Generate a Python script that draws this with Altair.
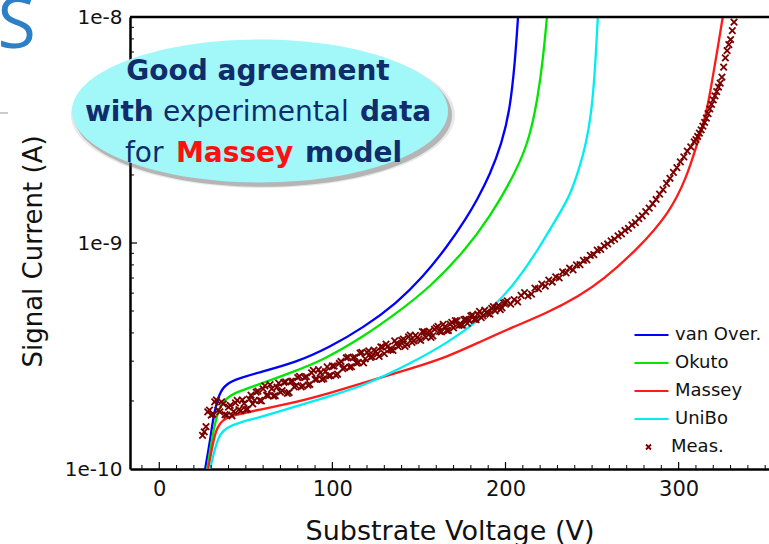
import altair as alt
import pandas as pd

# ---------------- data ----------------
models = ["van Over.", "Okuto", "Massey", "UniBo"]
model_colors = ["#0000ff", "#00e600", "#ff1a1a", "#00eeee"]

van_v = [26.5, 29.4, 31.2, 34.0, 36.9, 42.7, 56.5, 79.6, 98.7, 117.7, 137.3, 152.3,
         166.2, 177.7, 183.5, 191.0, 197.9, 202.5, 205.4, 207.2]
van_i = [1.0e-10, 1.34e-10, 1.70e-10, 2.08e-10, 2.31e-10, 2.48e-10, 2.66e-10, 2.97e-10,
         3.47e-10, 4.21e-10, 5.43e-10, 7.08e-10, 9.6e-10, 1.30e-9, 1.55e-9, 2.0e-9,
         2.77e-9, 3.87e-9, 6.2e-9, 9.9e-9]

oku_v = [27.7, 30.6, 33.5, 36.4, 42.7, 56.5, 75.6, 94.6, 117.7, 137.3, 156.4, 175.4,
         191.0, 206.6, 214.1, 218.7, 221.6, 223.9]
oku_i = [1.0e-10, 1.39e-10, 1.77e-10, 1.98e-10, 2.17e-10, 2.35e-10, 2.66e-10, 3.03e-10,
         3.84e-10, 4.90e-10, 6.38e-10, 9.03e-10, 1.30e-9, 2.10e-9, 2.94e-9, 4.43e-9,
         6.46e-9, 9.9e-9]

mas_v = [28.3, 31.2, 33.5, 36.4, 42.7, 56.5, 79.6, 98.7, 117.7, 146.6, 166.2, 185.2,
         204.3, 223.9, 242.9, 256.2, 275.8, 294.9, 304.7, 310.4, 316.2, 319.7, 322.6, 325.4]
mas_i = [1.0e-10, 1.34e-10, 1.53e-10, 1.65e-10, 1.73e-10, 1.82e-10, 1.98e-10, 2.17e-10,
         2.40e-10, 2.80e-10, 3.13e-10, 3.65e-10, 4.25e-10, 4.90e-10, 5.85e-10, 6.86e-10,
         9.31e-10, 1.36e-9, 1.96e-9, 2.7e-9, 3.75e-9, 5.43e-9, 7.3e-9, 9.9e-9]

uni_v = [29.4, 32.3, 35.2, 39.2, 46.7, 56.5, 75.6, 94.6, 117.7, 146.6, 166.2, 185.2,
         204.3, 219.8, 231.4, 237.2, 242.9, 246.5, 249.5, 251.6, 253.3]
uni_i = [1.0e-10, 1.25e-10, 1.44e-10, 1.53e-10, 1.61e-10, 1.68e-10, 1.86e-10, 2.06e-10,
         2.32e-10, 2.97e-10, 3.61e-10, 4.56e-10, 6.38e-10, 9.6e-10, 1.36e-9, 1.62e-9,
         2.17e-9, 2.75e-9, 3.7e-9, 5.6e-9, 9.9e-9]

# measured points: substrate voltage (V) and signal current (pA)
meas_v = [25, 27, 29, 31, 33, 35, 37, 39, 41, 43, 45, 47, 49, 51, 53, 55, 57, 59, 61, 63,
          65, 67, 69, 71, 73, 75, 77, 79, 81, 83, 85, 87, 89, 91, 93, 95, 97, 99, 101, 103,
          105, 107, 109, 111, 113, 115, 117, 119,
          121, 123, 125, 127, 129, 131, 133, 135, 137, 139, 141, 143, 145, 147, 149, 151,
          153, 155, 157, 159, 161, 163, 165, 167, 169, 171, 173, 175, 177, 179, 181, 183,
          185, 187, 189, 191, 193, 195, 197, 199, 201, 203, 205, 207, 209, 211, 213, 215,
          217, 219, 221, 223, 225, 227, 229, 231, 233, 235, 237, 239, 241, 243, 245, 247,
          249, 251, 253, 255, 257, 259, 261, 263, 265, 267, 269, 271, 273, 275, 277, 279,
          281, 283, 285, 287, 289, 291, 293, 295, 297, 299, 301, 303, 305, 307, 309,
          310, 311, 312, 313, 314, 315, 316, 317, 318, 319, 320, 321, 322, 323, 324, 325,
          326, 327, 328, 329, 330, 331, 332]
meas_pa = [141, 154, 182, 175, 202, 179, 194, 173, 191, 180, 201, 181, 195, 184, 212, 201,
           221, 200, 233, 211, 226, 211, 240, 222, 243, 218, 245, 234, 257, 233, 256, 237,
           273, 250, 266, 251, 283, 259, 285, 263, 299, 281, 313, 284, 313, 296, 328, 307,
           333, 314, 331, 315, 346, 357, 338, 335, 360, 354, 376, 356, 391, 369, 382, 371,
           404, 401, 382, 415, 428, 404, 426, 410, 445, 454, 432, 433, 461, 454, 479, 458,
           498, 476, 493, 485, 523, 520, 507, 542, 555, 536, 562, 549, 587, 603, 584, 594,
           631, 626, 658, 645, 685, 672, 708, 701, 745, 738, 775, 760, 800, 803, 838, 842,
           882, 888, 930, 936, 972, 990, 1022, 1040, 1076, 1098, 1136, 1161, 1203, 1231,
           1282, 1318, 1377, 1426, 1495, 1558, 1646, 1724, 1837, 1934, 2052, 2154, 2287,
           2403, 2548, 2663, 2800,
           2870, 2960, 3060, 3170, 3290, 3420, 3570, 3740, 3920, 4110, 4300, 4480, 4680,
           4900, 5100, 5420, 6000, 6600, 7100, 7550, 7950, 8700, 9500]
# extra measured points in the dense lower part of the sweep
meas2_v = [26, 28, 30, 32, 34, 36, 38, 40, 42, 44, 46, 48, 50, 52, 54, 56, 58, 60, 62, 64,
           66, 68, 70, 72, 74, 76, 78, 80, 82, 84, 86, 88, 90, 92, 94, 96, 98, 100, 102,
           104, 106, 108, 110, 112, 114, 116, 118, 120,
           122, 124, 126, 128, 130, 132, 134, 136, 138, 140, 142, 144, 146, 148, 150, 152,
           154, 156, 158, 160, 162, 164, 166, 168, 170, 172, 174, 176, 178, 180, 182, 184,
           186, 188, 190, 192, 194, 196, 198, 200]
meas2_pa = [146, 179, 173, 198, 182, 198, 174, 188, 172, 196, 183, 202, 183, 204, 194, 219,
            201, 226, 212, 236, 210, 230, 219, 242, 216, 244, 231, 254, 231, 254, 235, 266,
            249, 275, 249, 270, 258, 286, 260, 293, 278, 310, 282, 310, 294, 326, 295, 328,
            312, 336, 323, 347, 324, 349, 337, 369, 348, 371, 349, 384, 363, 390, 376, 405,
            382, 407, 388, 421, 406, 436, 411, 438, 421, 452, 434, 458, 441, 476, 459, 485,
            468, 504, 487, 514, 501, 529, 516, 546]

x_label_values = [0, 100, 200, 300]
y_label_values = [1e-10, 1e-9, 1e-8]
x_major_ticks = [0, 100, 200, 300]
x_minor_ticks = [-10, 10, 20, 30, 40, 50, 60, 70, 80, 90, 110, 120, 130, 140, 150, 160,
                 170, 180, 190, 210, 220, 230, 240, 250, 260, 270, 280, 290, 310, 320,
                 330, 340, 350]
y_major_ticks = [1e-9]
y_minor_ticks = [2e-10, 3e-10, 4e-10, 5e-10, 6e-10, 7e-10, 8e-10, 9e-10,
                 2e-9, 3e-9, 4e-9, 5e-9, 6e-9, 7e-9, 8e-9, 9e-9]

# ---------------- tables ----------------
rows = []
for name, vs, ii in zip(models, [van_v, oku_v, mas_v, uni_v], [van_i, oku_i, mas_i, uni_i]):
    for v, i in zip(vs, ii):
        rows.append({"V": v, "I": i, "model": name})
lines_df = pd.DataFrame(rows)
meas_df = pd.DataFrame({"V": meas_v + meas2_v,
                        "I": [p * 1e-12 for p in meas_pa + meas2_pa],
                        "series": "Meas."})
one = pd.DataFrame({"a": [0]})

FONT = "DejaVu Sans"
TXT = "#111111"
xscale = alt.Scale(domain=[-16.9, 352.2], nice=False, zero=False)
yscale = alt.Scale(type="log", domain=[1e-10, 1e-8], nice=False)

xaxis = alt.Axis(values=x_label_values, ticks=False, tickSize=0, grid=False,
                 domainColor="black", domainWidth=2.5,
                 labelFont=FONT, labelFontSize=21, labelColor=TXT, labelPadding=9,
                 title="Substrate Voltage (V)", titleFont=FONT, titleFontSize=27,
                 titleFontWeight="normal", titleColor=TXT, titleY=70,
                 titleBaseline="alphabetic")
yaxis = alt.Axis(values=y_label_values, ticks=False, tickSize=0, grid=False,
                 domainColor="black", domainWidth=2.5,
                 labelExpr="'1e' + round(log(datum.value) / LN10)",
                 labelFont=FONT, labelFontSize=20, labelColor=TXT, labelPadding=8,
                 title="Signal Current (A)", titleFont=FONT, titleFontSize=26,
                 titleFontWeight="normal", titleColor=TXT, titleAngle=270,
                 titleX=-89, titleY=234, titleAlign="center", titleBaseline="alphabetic")

X = alt.X("V:Q", scale=xscale, axis=xaxis)
Y = alt.Y("I:Q", scale=yscale, axis=yaxis)

# frame top line
top_line = alt.Chart(one).mark_rule(color="black", strokeWidth=2.5).encode(
    x=alt.value(0), x2=alt.value(639), y=alt.value(0))

# inward ticks
xt_major = alt.Chart(pd.DataFrame({"V": x_major_ticks})).mark_rule(
    color="black", strokeWidth=1.2).encode(x=X, y=alt.value(452), y2=alt.value(445))
xt_minor = alt.Chart(pd.DataFrame({"V": x_minor_ticks})).mark_rule(
    color="black", strokeWidth=1.0).encode(x=X, y=alt.value(452), y2=alt.value(448))
yt_major = alt.Chart(pd.DataFrame({"I": y_major_ticks})).mark_rule(
    color="black", strokeWidth=1.2).encode(y=Y, x=alt.value(0), x2=alt.value(7))
yt_minor = alt.Chart(pd.DataFrame({"I": y_minor_ticks})).mark_rule(
    color="black", strokeWidth=1.0).encode(y=Y, x=alt.value(0), x2=alt.value(4))

lines = alt.Chart(lines_df).mark_line(strokeWidth=2.3, interpolate="basis", clip=True).encode(
    x=X, y=Y,
    color=alt.Color("model:N", scale=alt.Scale(domain=models, range=model_colors),
                    legend=alt.Legend(title=None, orient="none", legendX=503, legendY=304,
                                      symbolType="stroke", symbolSize=1156,
                                      symbolStrokeWidth=2.2, labelFont=FONT,
                                      labelFontSize=18, labelColor=TXT, labelOffset=5,
                                      rowPadding=0, clipHeight=28, padding=0)),
    order=alt.Order("V:Q"))

x_shape = "M-1,-1L1,1M-1,1L1,-1"
meas = alt.Chart(meas_df).mark_point(filled=False, color="#7a0000", strokeWidth=1.8,
                                     size=42, opacity=1).encode(
    x=X, y=Y,
    shape=alt.Shape("series:N", scale=alt.Scale(domain=["Meas."], range=[x_shape]),
                    legend=alt.Legend(title=None, orient="none", legendX=509.5, legendY=416,
                                      symbolSize=25, symbolStrokeColor="#7a0000",
                                      symbolStrokeWidth=1.8, labelFont=FONT,
                                      labelFontSize=18, labelColor=TXT, labelOffset=13.5,
                                      clipHeight=28, padding=0)))

# annotation bubble
ell = "M-1,0A1,0.38,0,1,1,1,0A1,0.38,0,1,1,-1,0Z"
shadow2 = alt.Chart(one).mark_point(shape=ell, size=384 ** 2, filled=True, color="#666666",
                                    opacity=0.15, strokeWidth=0).encode(
    x=alt.value(133), y=alt.value(98))
shadow1 = alt.Chart(one).mark_point(shape=ell, size=378 ** 2, filled=True, color="#555555",
                                    opacity=0.35, strokeWidth=0).encode(
    x=alt.value(133), y=alt.value(98))
bubble = alt.Chart(one).mark_point(shape=ell, size=376 ** 2, filled=True, color="#a2f7f9",
                                   opacity=1, strokeWidth=0).encode(
    x=alt.value(130), y=alt.value(94))

NAVY = "#102c6b"


def word(text, x, y, bold=True, color=NAVY, align="left"):
    return alt.Chart(one).mark_text(text=text, font=FONT, fontSize=28,
                                    fontWeight="bold" if bold else "normal",
                                    color=color, align=align, baseline="alphabetic").encode(
        x=alt.value(x), y=alt.value(y))


words = [
    word("Good agreement", 128, 63, align="center"),
    word("with", -45, 104),
    word("experimental", 33, 104, bold=False),
    word("data", 230, 104),
    word("for", -5, 145, bold=False),
    word("Massey", 46, 145, color="#ff1010"),
    word("model", 175, 145),
]

big_s = alt.Chart(one).mark_text(text="S", font="Open Sans", fontSize=70,
                                 fontWeight="normal", color="#2d7fc6", align="right",
                                 baseline="alphabetic").encode(
    x=alt.value(-94), y=alt.value(31))
gray_rule = alt.Chart(one).mark_rule(color="#999999", strokeWidth=1).encode(
    x=alt.value(-130), x2=alt.value(-122), y=alt.value(96))

chart = alt.layer(
    lines, meas, top_line, xt_major, xt_minor, yt_major, yt_minor,
    shadow2, shadow1, bubble, *words, big_s, gray_rule
).properties(
    width=639, height=452,
    autosize=alt.AutoSizeParams(type="none"),
    padding={"left": 130, "top": 17, "right": 0, "bottom": 75},
    background="white",
).configure_view(stroke=None)

chart.save("out.html", embed_options={"renderer": "svg", "actions": False})
